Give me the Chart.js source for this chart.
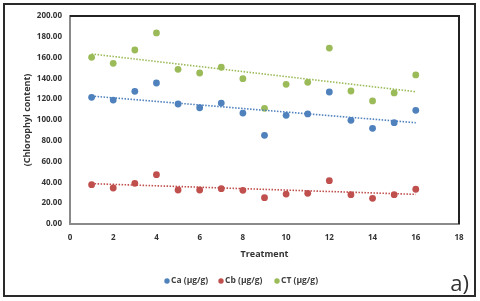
<!DOCTYPE html>
<html>
<head>
<meta charset="utf-8">
<script src="https://cdn.jsdelivr.net/npm/chart.js@4/dist/chart.umd.min.js"></script>
<style>
html,body{margin:0;padding:0;background:#fff;}
#wrap{width:480px;height:301px;position:relative;}
</style>
</head>
<body>
<div id="wrap"><canvas id="c" width="480" height="301"></canvas></div>
<script>
const treatment = [1,2,3,4,5,6,7,8,9,10,11,12,13,14,15,16];
const ca = [121.8,119.2,127.6,135.6,115.4,111.8,116.3,106.7,85.3,104.5,105.8,126.9,99.7,92.0,97.4,109.3];
const cb = [37.8,34.6,39.1,47.4,32.7,32.7,34.0,32.4,25.3,28.8,29.5,41.7,28.2,24.7,28.2,33.4];
const ct = [160.3,154.5,167.3,183.7,148.7,145.2,150.7,139.7,111.2,134.3,136.2,169.2,127.9,118.3,126.0,143.3];
const trendX = [1,16];
const trendCa = [123.0,97.4];
const trendCb = [38.8,28.5];
const trendCt = [163.5,127.2];
const seriesNames = ['Ca (µg/g)','Cb (µg/g)','CT (µg/g)'];
const colors = ['#4F81BD','#C0504D','#9BBB59'];
const xTitle = 'Treatment';
const yTitle = '(Chlorophyl content)';
const panelLabel = 'a)';

const pts = (xs, ys) => xs.map((x,i)=>({x:x,y:ys[i]}));

const frame = {
  id:'frame',
  beforeDraw(chart){
    const c = chart.ctx;
    c.save();
    c.fillStyle='#fff';
    c.fillRect(0,0,chart.width,chart.height);
    c.restore();
  },
  afterDraw(chart){
    const c = chart.ctx, a = chart.chartArea;
    c.save();
    c.strokeStyle='#222'; c.lineWidth=2;
    c.beginPath();
    c.moveTo(a.left, a.top); c.lineTo(a.right, a.top); c.lineTo(a.right, a.bottom);
    c.stroke();
    c.strokeStyle='#2a2a2a'; c.lineWidth=2;
    c.strokeRect(4,4,471,292);
    const ly = 281;
    const lx = [167,221,277];
    c.font='bold 8.5px "Open Sans"';
    c.textBaseline='middle'; c.textAlign='left';
    for(let i=0;i<3;i++){
      c.fillStyle=colors[i];
      c.beginPath(); c.arc(lx[i],ly,2.7,0,Math.PI*2); c.fill();
      c.fillStyle='#404040';
      c.fillText(seriesNames[i], lx[i]+4, ly);
    }
    c.font='22px "Open Sans"';
    c.fillStyle='#333';
    c.textAlign='right'; c.textBaseline='alphabetic';
    c.fillText(panelLabel, 469, 291);
    c.restore();
  }
};

const tickFont = {family:'"Open Sans"', size:8, weight:'bold'};
new Chart(document.getElementById('c'), {
  type:'scatter',
  data:{
    datasets:[
      {label:'trendCa', data:pts(trendX,trendCa), type:'line', borderColor:colors[0], borderWidth:1.6, borderDash:[1.5,1.5], pointRadius:0, fill:false},
      {label:'trendCb', data:pts(trendX,trendCb), type:'line', borderColor:colors[1], borderWidth:1.6, borderDash:[1.5,1.5], pointRadius:0, fill:false},
      {label:'trendCt', data:pts(trendX,trendCt), type:'line', borderColor:colors[2], borderWidth:1.6, borderDash:[1.5,1.5], pointRadius:0, fill:false},
      {label:seriesNames[0], data:pts(treatment,ca), backgroundColor:colors[0], borderColor:colors[0], pointRadius:3.4, borderWidth:0},
      {label:seriesNames[1], data:pts(treatment,cb), backgroundColor:colors[1], borderColor:colors[1], pointRadius:3.4, borderWidth:0},
      {label:seriesNames[2], data:pts(treatment,ct), backgroundColor:colors[2], borderColor:colors[2], pointRadius:3.4, borderWidth:0}
    ]
  },
  options:{
    responsive:false,
    animation:false,
    devicePixelRatio:1,
    layout:{padding:{top:16,right:21,bottom:41,left:0}},
    plugins:{legend:{display:false}, tooltip:{enabled:false}},
    scales:{
      x:{
        type:'linear', min:0, max:18,
        ticks:{stepSize:2, font:tickFont, color:'#333', padding:9, maxRotation:0},
        grid:{display:false, drawTicks:false},
        border:{display:true, color:'#8a8a8a', width:2},
        title:{display:true, text:xTitle, font:{family:'"Open Sans"', size:9, weight:'bold'}, color:'#333', padding:{top:0,bottom:0}},
        afterFit(s){ s.height = 36; }
      },
      y:{
        type:'linear', min:0, max:200,
        ticks:{stepSize:20, font:tickFont, color:'#333', padding:8, callback:v=>Number(v).toFixed(2)},
        grid:{display:false, drawTicks:false},
        border:{display:true, color:'#8a8a8a', width:2},
        title:{display:true, text:yTitle, font:{family:'"Open Sans"', size:9, weight:'bold'}, color:'#333', padding:{top:22,bottom:0}},
        afterFit(s){ s.width = 70; }
      }
    }
  },
  plugins:[frame]
});
</script>
</body>
</html>
